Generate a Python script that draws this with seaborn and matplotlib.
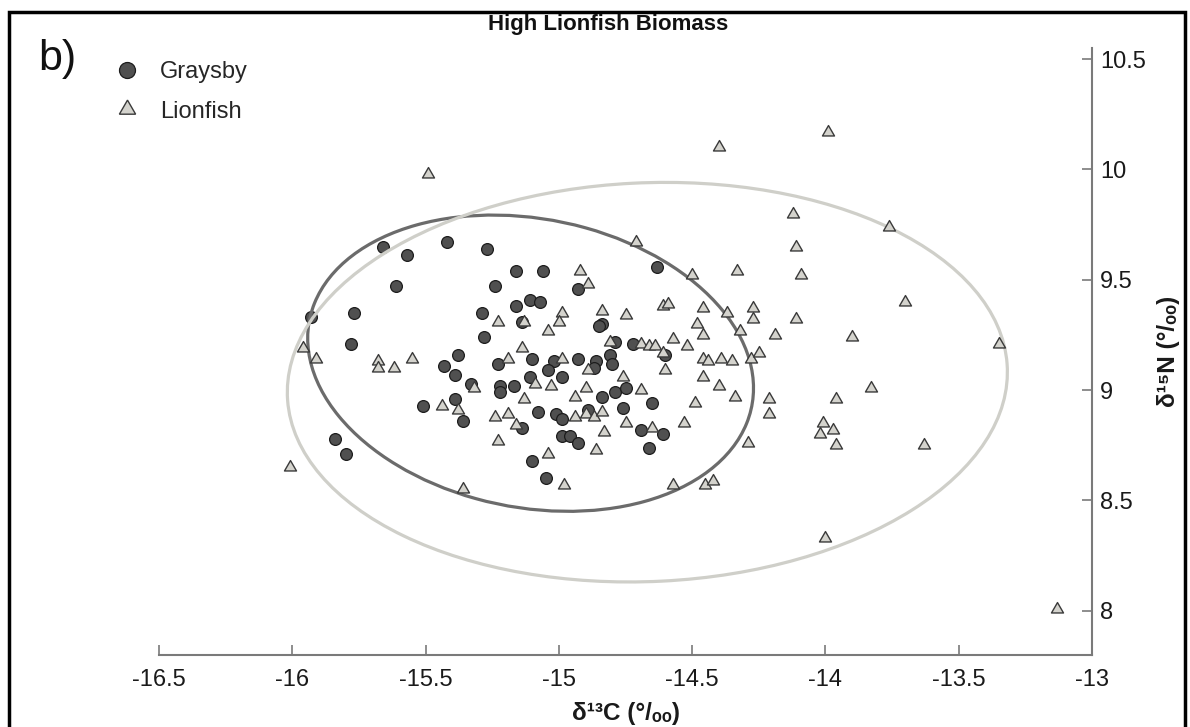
import matplotlib
matplotlib.use("Agg")
import matplotlib.pyplot as plt
from matplotlib.patches import Ellipse, Rectangle
from matplotlib.lines import Line2D
import seaborn as sns
import pandas as pd

# ---------------- data ----------------
graysby_d13c = [-15.66, -15.57, -15.42, -15.27, -15.61, -15.24, -15.16, -15.06, -15.11, -15.07,
                -15.16, -15.77, -15.93, -15.29, -15.14, -15.28, -15.78, -14.63, -14.93, -14.84,
                -14.85, -14.79, -14.72, -15.10, -15.02, -15.04, -14.99, -14.93, -14.86, -14.87,
                -14.81, -14.80, -14.60, -14.84, -14.79, -14.75, -14.76, -14.65, -15.08, -15.01,
                -14.99, -14.89, -14.69, -14.61, -14.99, -14.96, -14.93, -14.66, -15.10, -15.05,
                -15.38, -15.43, -15.23, -15.39, -15.33, -15.22, -15.22, -15.17, -15.11, -15.39,
                -15.51, -15.36, -15.14, -15.84, -15.80]
graysby_d15n = [9.65, 9.61, 9.67, 9.64, 9.47, 9.47, 9.54, 9.54, 9.41, 9.40,
                9.38, 9.35, 9.33, 9.35, 9.31, 9.24, 9.21, 9.56, 9.46, 9.30,
                9.29, 9.22, 9.21, 9.14, 9.13, 9.09, 9.06, 9.14, 9.13, 9.10,
                9.16, 9.12, 9.16, 8.97, 8.99, 9.01, 8.92, 8.94, 8.90, 8.89,
                8.87, 8.91, 8.82, 8.80, 8.79, 8.79, 8.76, 8.74, 8.68, 8.60,
                9.16, 9.11, 9.12, 9.07, 9.03, 9.02, 8.99, 9.02, 9.06, 8.96,
                8.93, 8.86, 8.83, 8.78, 8.71]

lionfish_d13c = [-15.49, -14.40, -13.99, -14.12, -14.11, -14.09, -13.76, -13.70, -14.11, -13.90,
                 -13.35, -13.83, -13.96, -14.01, -14.02, -13.97, -13.96, -13.63, -14.00, -13.13,
                 -14.71, -14.50, -14.33, -14.92, -14.89, -14.84, -14.75, -14.61, -14.59, -14.46,
                 -14.37, -14.27, -14.27, -14.48, -14.46, -14.32, -14.19, -14.99, -15.00, -15.04,
                 -14.81, -14.69, -14.66, -14.64, -14.57, -14.52, -14.99, -14.89, -15.09, -15.03,
                 -14.90, -14.94, -14.76, -14.69, -14.60, -14.46, -14.44, -14.39, -14.35, -14.28,
                 -14.25, -14.46, -14.40, -14.34, -14.49, -14.21, -14.21, -14.94, -14.90, -14.87,
                 -14.84, -14.75, -14.65, -14.53, -14.83, -15.04, -14.86, -14.98, -14.57, -14.45,
                 -14.42, -14.29, -16.01, -15.96, -15.91, -15.68, -15.68, -15.62, -15.55, -15.32,
                 -15.19, -15.14, -15.44, -15.38, -15.24, -15.19, -15.16, -15.13, -15.23, -15.36,
                 -15.23, -15.13, -14.61]
lionfish_d15n = [9.98, 10.10, 10.17, 9.80, 9.65, 9.52, 9.74, 9.40, 9.32, 9.24,
                 9.21, 9.01, 8.96, 8.85, 8.80, 8.82, 8.75, 8.75, 8.33, 8.01,
                 9.67, 9.52, 9.54, 9.54, 9.48, 9.36, 9.34, 9.38, 9.39, 9.37,
                 9.35, 9.37, 9.32, 9.30, 9.25, 9.27, 9.25, 9.35, 9.31, 9.27,
                 9.22, 9.21, 9.20, 9.20, 9.23, 9.20, 9.14, 9.09, 9.03, 9.02,
                 9.01, 8.97, 9.06, 9.00, 9.09, 9.14, 9.13, 9.14, 9.13, 9.14,
                 9.17, 9.06, 9.02, 8.97, 8.94, 8.96, 8.89, 8.88, 8.89, 8.88,
                 8.90, 8.85, 8.83, 8.85, 8.81, 8.71, 8.73, 8.57, 8.57, 8.57,
                 8.59, 8.76, 8.65, 9.19, 9.14, 9.13, 9.10, 9.10, 9.14, 9.01,
                 9.14, 9.19, 8.93, 8.91, 8.88, 8.89, 8.84, 8.96, 8.77, 8.55,
                 9.31, 9.31, 9.17]

# standard ellipse parameters (centre x, centre y, full width, full height, angle deg)
graysby_ellipse = (-15.106, 9.122, 2 * 0.855, 2 * 0.647, -18.6)
lionfish_ellipse = (-14.668, 9.036, 2 * 1.352, 2 * 0.903, 3.5)

x_ticks = [-16.5, -16, -15.5, -15, -14.5, -14, -13.5, -13]
x_ticklabels = ["-16.5", "-16", "-15.5", "-15", "-14.5", "-14", "-13.5", "-13"]
y_ticks = [8, 8.5, 9, 9.5, 10, 10.5]
y_ticklabels = ["8", "8.5", "9", "9.5", "10", "10.5"]

title = "High Lionfish Biomass"
panel_label = "b)"
x_label = "δ¹³C (°/ₒₒ)"
y_label = "δ¹⁵N (°/ₒₒ)"

# ---------------- style ----------------
sns.set_theme(style="white")
plt.rcParams["font.family"] = ["Liberation Sans", "DejaVu Sans"]
plt.rcParams["axes.unicode_minus"] = False

W, H = 1190, 727
fig = plt.figure(figsize=(W / 100, H / 100), dpi=100)
ax = fig.add_axes([159 / W, 72 / H, 933 / W, 607 / H])

g_color, g_edge = "#505050", "#1c1c1c"
l_color, l_edge = "#d4d3cd", "#3a3a3a"
axis_color = "#7a7a7a"

gdf = pd.DataFrame({"d13C": graysby_d13c, "d15N": graysby_d15n})
ldf = pd.DataFrame({"d13C": lionfish_d13c, "d15N": lionfish_d15n})

sns.scatterplot(data=gdf, x="d13C", y="d15N", marker="o", s=72, color=g_color,
                edgecolor=g_edge, linewidth=0.9, ax=ax, zorder=2, legend=False)

for (cx, cy, w, h, ang), col in [(graysby_ellipse, "#6b6b6b"), (lionfish_ellipse, "#cfcfc9")]:
    ax.add_patch(Ellipse((cx, cy), w, h, angle=ang, fill=False, edgecolor=col,
                         linewidth=2.3, zorder=3))

sns.scatterplot(data=ldf, x="d13C", y="d15N", marker=(3, 0, 0), s=100, color=l_color,
                edgecolor=l_edge, linewidth=1.0, ax=ax, zorder=4, legend=False)

ax.set_xlim(-16.5, -13)
ax.set_ylim(7.8, 10.55)

for side in ["top", "left"]:
    ax.spines[side].set_visible(False)
for side in ["bottom", "right"]:
    ax.spines[side].set_visible(True)
    ax.spines[side].set_color(axis_color)
    ax.spines[side].set_linewidth(1.5)

ax.yaxis.tick_right()
ax.yaxis.set_label_position("right")
ax.set_xticks(x_ticks)
ax.set_xticklabels(x_ticklabels)
ax.set_yticks(y_ticks)
ax.set_yticklabels(y_ticklabels)
ax.tick_params(axis="both", direction="in", length=7, width=1.2, color=axis_color,
               labelsize=17, labelcolor="#1a1a1a")
ax.tick_params(axis="x", pad=10, bottom=True)
ax.tick_params(axis="y", pad=6, right=True, left=False)
ax.grid(False)

ax.set_xlabel(x_label, fontsize=17.5, fontweight="bold", labelpad=8, color="#1a1a1a")
ax.set_ylabel(y_label, fontsize=17.5, fontweight="bold", rotation=90, labelpad=8,
              color="#1a1a1a")

fig.text(608 / W, 1 - 30 / H, title, ha="center", va="baseline", fontsize=16,
         fontweight="bold", color="#111111")
fig.text(38 / W, 1 - 70 / H, panel_label, ha="left", va="baseline", fontsize=31,
         color="#111111")

handles = [
    Line2D([], [], linestyle="none", marker="o", markersize=11.5, markerfacecolor=g_color,
           markeredgecolor=g_edge, markeredgewidth=0.9, label="Graysby"),
    Line2D([], [], linestyle="none", marker=(3, 0, 0), markersize=13.5, markerfacecolor=l_color,
           markeredgecolor=l_edge, markeredgewidth=1.0, label="Lionfish"),
]
fig.legend(handles=handles, loc="upper left", bbox_to_anchor=(115 / W, 1 - 61 / H),
           frameon=False, fontsize=17, handlelength=1.0, handletextpad=0.9,
           labelspacing=0.75, borderpad=0, borderaxespad=0)

fig.add_artist(Rectangle((8.5 / W, -0.05), (1185 - 8.5) / W, 1.05 - 11.5 / H,
                         transform=fig.transFigure, fill=False, edgecolor="black",
                         linewidth=2.5))

fig.savefig("out.png", dpi=100, facecolor="white")
